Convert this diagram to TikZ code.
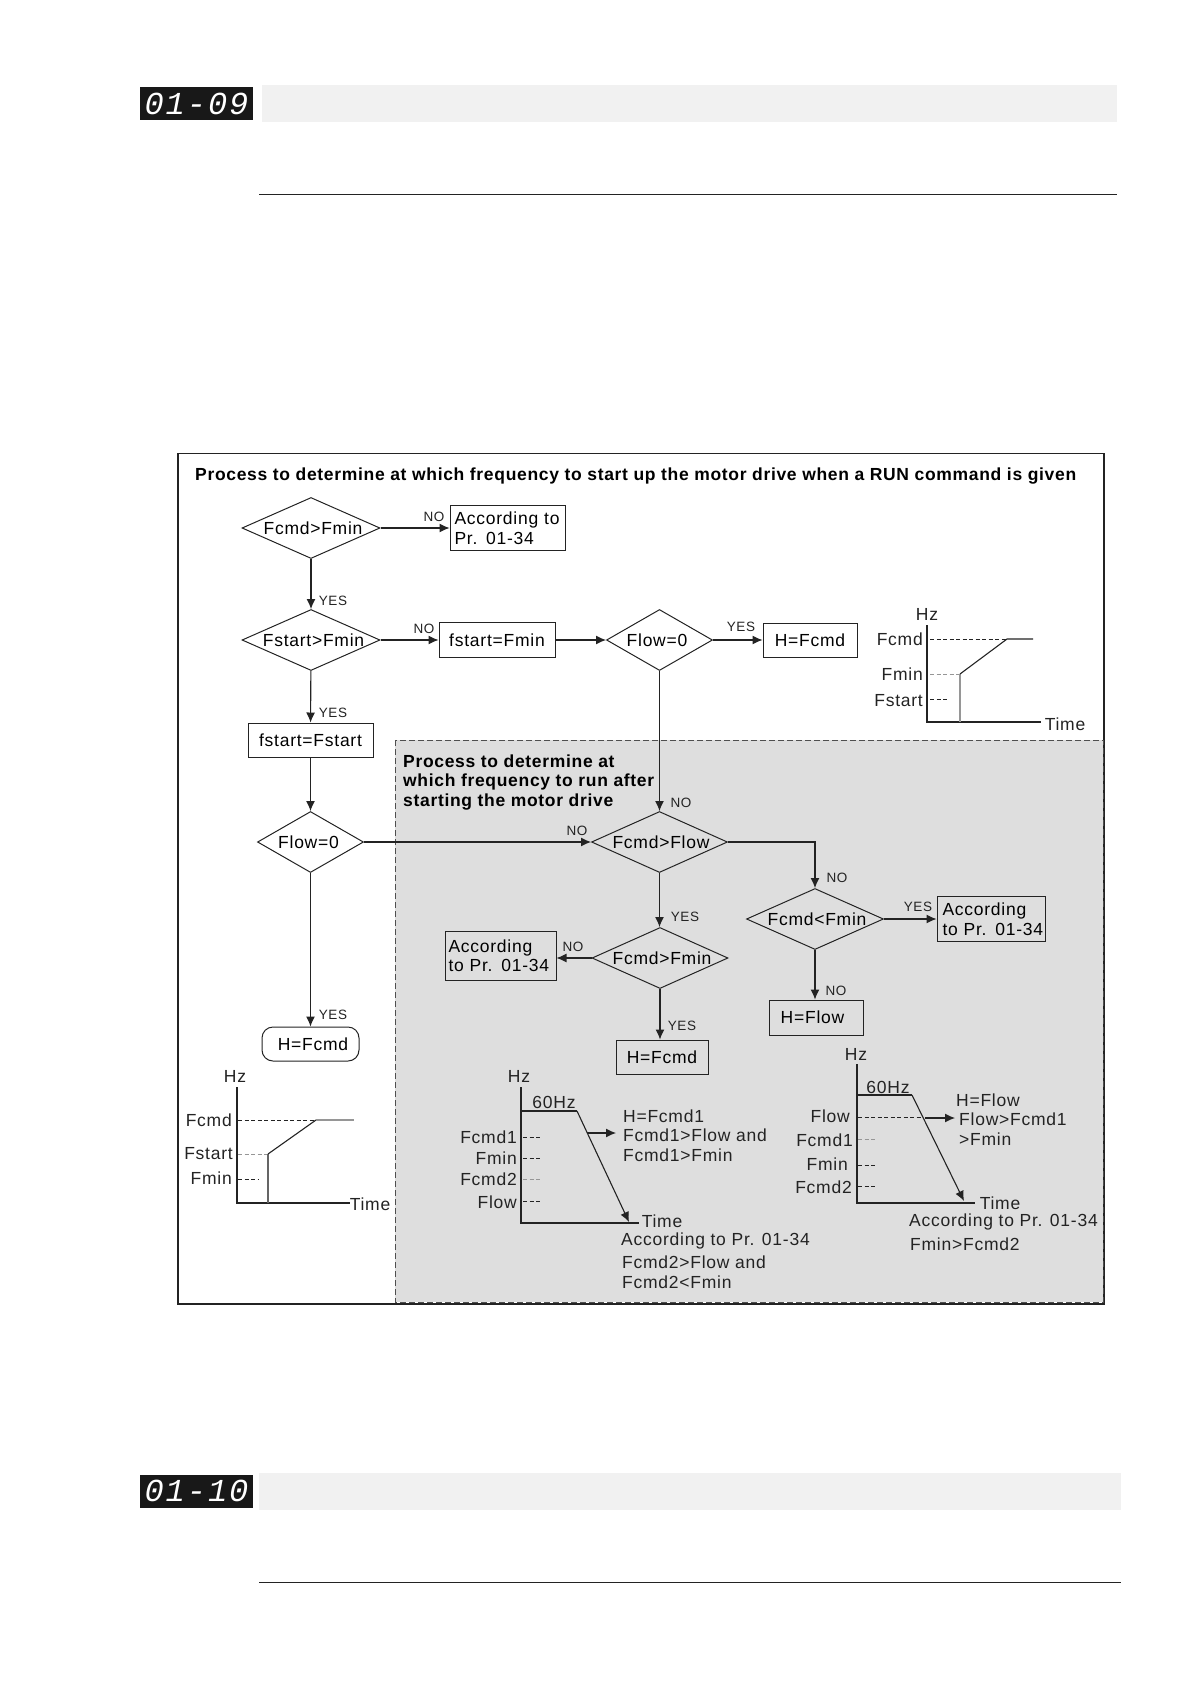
\documentclass[tikz,border=0pt]{standalone}
\usepackage{xcolor}
\usepackage{fontspec}
\setmainfont[LetterSpace=4.3]{Liberation Sans}
\newfontfamily\headfont[LetterSpace=3.9]{Liberation Sans}
\newfontfamily\ledfont[LetterSpace=6]{Liberation Mono}
\usepackage{tikz}
\usetikzlibrary{shapes.geometric, arrows.meta, positioning}
\definecolor{myink}{RGB}{35,35,35}
\definecolor{myshade}{RGB}{222,222,222}
\definecolor{mybar}{RGB}{241,241,241}
\definecolor{mygrey}{RGB}{150,150,150}
\newcommand{\dlabel}[2]{\clap{\hspace{#1}#2}}
\tikzset{
  block/.style={rectangle, draw=myink, line width=1pt, inner sep=2pt, align=left,
    font=\fontsize{17.5}{19.5}\selectfont},
  decision/.style={diamond, draw=myink, line width=1pt, inner sep=0pt,
    minimum height=61pt, font=\fontsize{17.5}{19.5}\selectfont},
  arrow/.style={-{Latex[length=10pt,width=9pt]}, line width=1.1pt, color=myink},
  axisline/.style={line width=1.1pt, color=myink},
  level/.style={line width=0.9pt, color=myink, dash pattern=on 4pt off 2.5pt},
  softlevel/.style={line width=0.9pt, color=mygrey, dash pattern=on 4pt off 2.5pt},
  answer/.style={font=\fontsize{13.5}{15}\selectfont, color=myink},
  chartlabel/.style={inner sep=0pt, font=\fontsize{17.5}{19.5}\selectfont, color=myink},
  heading/.style={inner sep=0pt, align=left, anchor=west, font=\fontsize{17.5}{19.8}\selectfont\headfont\bfseries},
  ledbox/.style={fill=myink!70!black, text=white, minimum width=113pt, minimum height=33pt,
    inner sep=0pt, font=\ledfont\fontsize{32}{32}\selectfont\slshape}
}
\begin{document}
\begin{tikzpicture}[x=1pt,y=-1pt]
    \useasboundingbox (0,0) rectangle (1190,1684);

    \node[ledbox] (ledA) at (196.5,103.5) {01-09};
    \fill[mybar] (262,85) rectangle (1117,122);
    \draw[line width=0.9pt, color=myink] (259,194) -- (1117,194);
    \node[ledbox] (ledB) at (196.5,1491) {01-10};
    \fill[mybar] (259,1473) rectangle (1121,1510);
    \draw[line width=0.9pt, color=myink] (259,1582) -- (1121,1582);

    \draw[line width=1.1pt, color=myink] (178,453.5) rectangle (1104,1304);
    \draw[fill=myshade, draw=myink!80, line width=0.9pt, dash pattern=on 6pt off 3pt] (395,740) rectangle (1103,1302);
    \node[heading] (title) at (195,476) {Process to determine at which frequency to start up the motor drive when a RUN command is given};
    \node[heading] (subtitle) at (403,782.5) {Process to determine at\\which frequency to run after\\starting the motor drive};

    \node[decision, minimum width=138pt, aspect=2.26] (fcmdA) at (311,528) {\dlabel{4pt}{Fcmd>Fmin}};
    \node[block, minimum width=115pt, minimum height=45pt, text width=106pt] (accA) at (507.5,528) {According to\\Pr. 01-34};
    \node[decision, minimum width=138pt, aspect=2.26] (fstartA) at (311,640) {\dlabel{5pt}{Fstart>Fmin}};
    \node[block, minimum width=116pt, minimum height=35pt] (setmin) at (497,640) {fstart=Fmin};
    \node[decision, minimum width=106pt, aspect=1.74] (flowA) at (659.5,640) {\dlabel{-5pt}{Flow=0}};
    \node[block, minimum width=94pt, minimum height=34pt] (hcmdA) at (810,640) {H=Fcmd};
    \node[block, minimum width=125pt, minimum height=34pt] (setstart) at (310.5,740) {fstart=Fstart};
    \node[decision, minimum width=106pt, aspect=1.74] (flowB) at (310.5,842) {\dlabel{-4pt}{Flow=0}};
    \node[block, rounded corners=11pt, minimum width=97pt, minimum height=34pt] (hcmdB) at (310.5,1044) {\hspace*{5pt}H=Fcmd};
    \node[decision, minimum width=136pt, aspect=2.23] (fcmdB) at (659.5,842) {\dlabel{3pt}{Fcmd>Flow}};
    \node[decision, minimum width=137pt, aspect=2.25] (fcmdC) at (815,919) {\dlabel{4pt}{Fcmd<Fmin}};
    \node[block, minimum width=108pt, minimum height=45pt, text width=97pt] (accB) at (991,919) {According\\\mbox{to Pr. 01-34}};
    \node[block, minimum width=94pt, minimum height=35pt] (hflow) at (816,1017.5) {\hspace*{-7pt}H=Flow};
    \node[decision, minimum width=136pt, aspect=2.23] (fcmdD) at (660,958) {\dlabel{4pt}{Fcmd>Fmin}};
    \node[block, minimum width=111pt, minimum height=49pt, text width=104pt] (accC) at (500.5,955.5) {According\\to Pr. 01-34};
    \node[block, minimum width=92pt, minimum height=34pt] (hcmdC) at (662,1057) {H=Fcmd};

    \draw[arrow] (fcmdA) -- (accA);
    \draw[arrow] (fcmdA) -- (fstartA);
    \draw[arrow] (fstartA) -- (setmin);
    \draw[arrow] (setmin) -- (flowA);
    \draw[arrow] (flowA) -- (hcmdA);
    \draw[arrow] (fstartA) -- (setstart);
    \draw[arrow] (setstart) -- (flowB);
    \draw[arrow] (flowB) -- (hcmdB);
    \draw[arrow] (flowB) -- (fcmdB);
    \draw[arrow] (flowA) -- (fcmdB);
    \draw[arrow] (fcmdB.east) -| (fcmdC.north);
    \draw[arrow] (fcmdC) -- (accB);
    \draw[arrow] (fcmdC.south) -- (fcmdC.south |- hflow.north);
    \draw[arrow] (fcmdB.south) -- (fcmdB.south |- fcmdD.north);
    \draw[arrow] (fcmdD) -- (fcmdD -| accC.east);
    \draw[arrow] (fcmdD.south) -- (fcmdD.south |- hcmdC.north);

    \node[answer] (noA) at (434,517) {NO};
    \node[answer] (yesA) at (333,601) {YES};
    \node[answer] (noB) at (424,629) {NO};
    \node[answer] (yesB) at (741,627) {YES};
    \node[answer] (yesC) at (333,713) {YES};
    \node[answer] (noC) at (577,831) {NO};
    \node[answer] (noD) at (681,803) {NO};
    \node[answer] (noE) at (837,878) {NO};
    \node[answer] (yesD) at (918,907) {YES};
    \node[answer] (noF) at (836,991) {NO};
    \node[answer] (yesE) at (685,917) {YES};
    \node[answer] (noG) at (573,947) {NO};
    \node[answer] (yesF) at (682,1026) {YES};
    \node[answer] (yesG) at (333,1015) {YES};

    \draw[axisline] (927,625) -- (927,722) -- (1041,722);
    \draw[level] (930,639) -- (1007,639);
    \draw[softlevel] (930,674) -- (960,674);
    \draw[level] (930,699) -- (948,699);
    \draw[line width=1.5pt, color=mygrey] (960,674) -- (960,722);
    \draw[axisline] (960,674) -- (1007,639) -- (1033,639);
    \node[chartlabel] (hzA) at (927,614) {Hz};
    \node[chartlabel] (timeA) at (1065,724) {Time};
    \node[chartlabel, anchor=east] (cmdA) at (923,639) {Fcmd};
    \node[chartlabel, anchor=east] (minA) at (923,674) {Fmin};
    \node[chartlabel, anchor=east] (startA) at (923,701) {Fstart};

    \draw[axisline] (237,1087) -- (237,1203) -- (350,1203);
    \draw[level] (238,1120) -- (315,1120);
    \draw[softlevel] (238,1154.5) -- (268,1154.5);
    \draw[level] (238,1179) -- (258,1179);
    \draw[line width=1.2pt, color=myink!70] (268,1154) -- (268,1203);
    \draw[axisline] (268,1154) -- (316,1120);
    \draw[line width=1.4pt, color=mygrey] (316,1120) -- (354,1120);
    \node[chartlabel] (hzB) at (235,1076) {Hz};
    \node[chartlabel] (timeB) at (370,1204) {Time};
    \node[chartlabel, anchor=east] (cmdB) at (232,1120) {Fcmd};
    \node[chartlabel, anchor=east] (startB) at (233,1154) {Fstart};
    \node[chartlabel, anchor=east] (minB) at (232,1178) {Fmin};

    \draw[axisline] (521,1087) -- (521,1223) -- (639,1223);
    \draw[axisline] (521,1111) -- (577,1111);
    \draw[arrow] (577,1111) -- (629,1222);
    \draw[arrow] (587,1133) -- (616,1133);
    \draw[level] (523,1137) -- (542,1137);
    \draw[level] (523,1158) -- (542,1158);
    \draw[softlevel] (523,1179) -- (542,1179);
    \draw[level] (523,1201) -- (542,1201);
    \node[chartlabel] (hzC) at (519,1076) {Hz};
    \node[chartlabel] (sixtyA) at (554,1102) {60Hz};
    \node[chartlabel] (timeC) at (662,1221) {Time};
    \node[chartlabel, anchor=west, align=left] (noteA) at (623,1135.5) {H=Fcmd1\\Fcmd1>Flow and\\Fcmd1>Fmin};
    \node[chartlabel, anchor=east] (cmdC) at (517,1137) {Fcmd1};
    \node[chartlabel, anchor=east] (minC) at (517,1158) {Fmin};
    \node[chartlabel, anchor=east] (cmdD) at (517,1179) {Fcmd2};
    \node[chartlabel, anchor=east] (lowC) at (517,1202) {Flow};
    \node[chartlabel, anchor=west] (noteB) at (621,1241) {According to Pr. 01-34};
    \node[chartlabel, anchor=west, align=left] (noteC) at (622,1272) {Fcmd2>Flow and\\Fcmd2<Fmin};

    \draw[axisline] (857,1064) -- (857,1203) -- (975,1203);
    \draw[axisline] (857,1095) -- (912,1095);
    \draw[arrow] (912,1095) -- (964,1201);
    \draw[level] (858,1117) -- (922,1117);
    \draw[arrow] (925,1118) -- (955,1118);
    \draw[softlevel] (858,1139) -- (877,1139);
    \draw[level] (858,1165) -- (877,1165);
    \draw[level] (858,1186) -- (877,1186);
    \node[chartlabel] (hzD) at (856,1054) {Hz};
    \node[chartlabel] (sixtyB) at (888,1087) {60Hz};
    \node[chartlabel] (timeD) at (1000,1203) {Time};
    \node[chartlabel, anchor=east] (lowD) at (850,1116) {Flow};
    \node[chartlabel, anchor=east] (cmdE) at (853,1140) {Fcmd1};
    \node[chartlabel, anchor=east] (minD) at (848,1164) {Fmin};
    \node[chartlabel, anchor=east] (cmdF) at (852,1187) {Fcmd2};
    \node[chartlabel, anchor=west] (noteD) at (956,1100) {H=Flow};
    \node[chartlabel, anchor=west, align=left] (noteE) at (959,1129) {Flow>Fcmd1\\>Fmin};
    \node[chartlabel, anchor=west] (noteF) at (909,1222) {According to Pr. 01-34};
    \node[chartlabel, anchor=west] (noteG) at (910,1244) {Fmin>Fcmd2};
\end{tikzpicture}
\end{document}
